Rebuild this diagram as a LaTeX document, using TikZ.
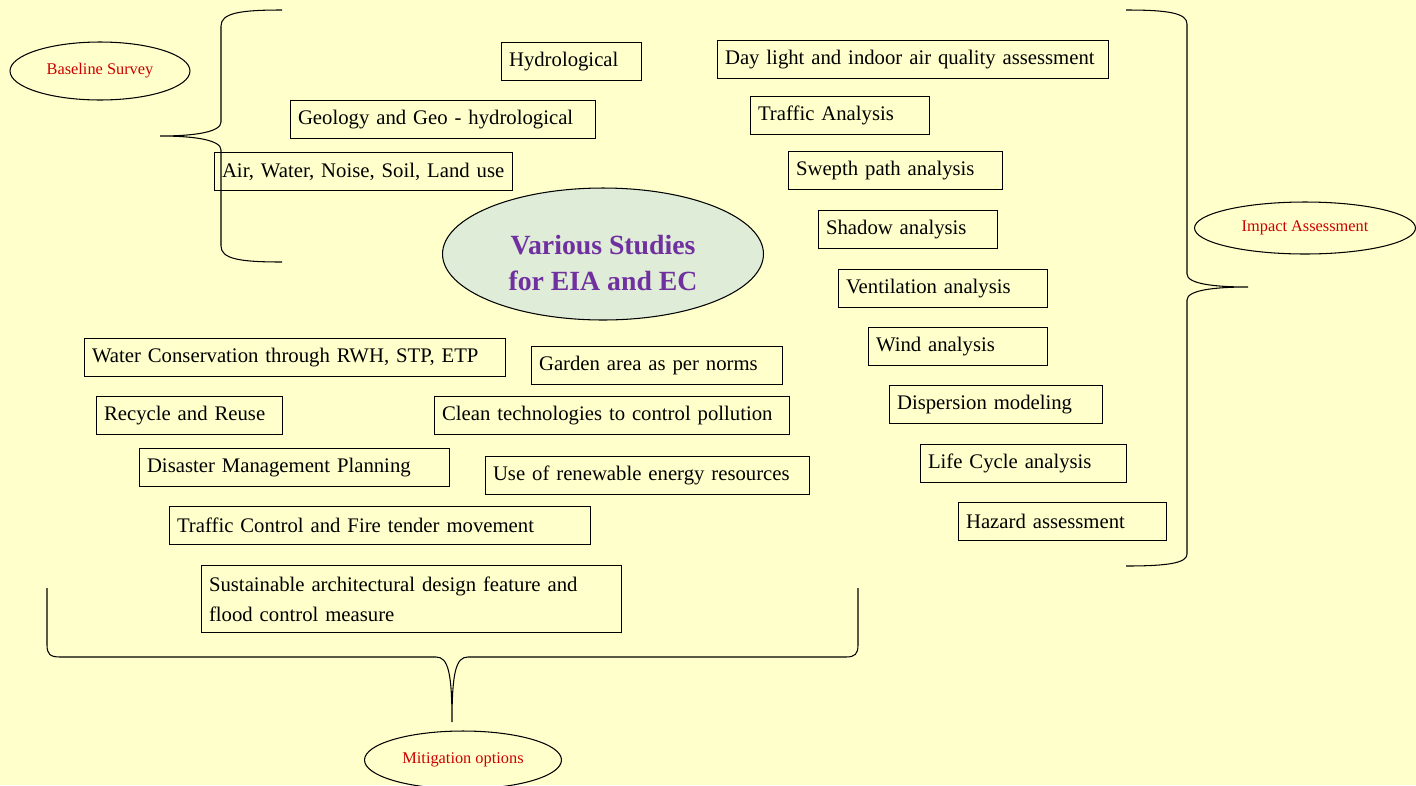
\documentclass[tikz,border=0pt]{standalone}
\usepackage{fontspec}
\setmainfont{Liberation Serif}
\usetikzlibrary{shapes.geometric}
\definecolor{paper}{RGB}{255,255,204}
\definecolor{labelred}{RGB}{204,0,0}
\definecolor{studypurple}{RGB}{112,48,160}
\definecolor{studyfill}{RGB}{222,236,216}

\begin{document}
\begin{tikzpicture}[x=0.02cm, y=-0.02cm, line width=0.6pt,
  box/.style={draw, anchor=north west, inner xsep=0.15cm, inner ysep=0pt,
    minimum height=0.76cm, align=left, font=\fontsize{11.8}{17}\selectfont},
  tag/.style={draw, ellipse, inner sep=0pt, text=labelred, font=\fontsize{9.3}{11}\selectfont}]
  % Page
  \fill[paper] (0,0) rectangle (1416,785);
  \useasboundingbox (0,0) rectangle (1416,785);

  % Centre
  \node[draw, ellipse, fill=studyfill, minimum width=6.42cm, minimum height=2.64cm] (studies) at (603,254) {};
  \node[text=studypurple, align=center, font=\fontsize{15.8}{20.4}\selectfont\bfseries]
    (studiestext) at (603,263) {Various Studies\\for EIA and EC};

  % Baseline survey
  \node[tag, minimum width=3.6cm, minimum height=1.16cm] (baseline) at (100,71) {Baseline Survey};
  \node[box, text width=2.5cm] (hydro) at (501,42) {Hydrological};
  \node[box, text width=5.8cm] (geology) at (290,100) {Geology and Geo - hydrological};
  \node[box, text width=5.66cm] (air) at (214,152) {Air, Water, Noise, Soil, Land use};
  \draw (282,10) .. controls (240,10) and (221,13) .. (221,26) -- (221,122)
    .. controls (221,132) and (195,136) .. (160,136)
    .. controls (195,136) and (221,140) .. (221,150) -- (221,246)
    .. controls (221,259) and (240,262) .. (282,262);

  % Impact assessment
  \node[tag, minimum width=4.42cm, minimum height=1.04cm] (impact) at (1305,228) {Impact Assessment};
  \node[box, text width=7.52cm] (daylight) at (717,40) {Day light and indoor air quality assessment};
  \node[box, text width=3.28cm] (traffic) at (750,96) {Traffic Analysis};
  \node[box, text width=3.98cm] (swepth) at (788,151) {Swepth path analysis};
  \node[box, text width=3.28cm] (shadow) at (818,210) {Shadow analysis};
  \node[box, text width=3.88cm] (vent) at (838,269) {Ventilation analysis};
  \node[box, text width=3.28cm] (wind) at (868,327) {Wind analysis};
  \node[box, text width=3.96cm] (disp) at (889,385) {Dispersion modeling};
  \node[box, text width=3.82cm] (lca) at (920,444) {Life Cycle analysis};
  \node[box, text width=3.86cm] (hazard) at (958,502) {Hazard assessment};
  \draw (1126,10) .. controls (1168,10) and (1187,13) .. (1187,24) -- (1187,274)
    .. controls (1187,284) and (1215,287) .. (1248,287)
    .. controls (1215,287) and (1187,290) .. (1187,300) -- (1187,554)
    .. controls (1187,563) and (1168,566) .. (1126,566);

  % Mitigation options
  \node[tag, minimum width=3.94cm, minimum height=1.16cm] (mitigation) at (463,760) {Mitigation options};
  \node[box, text width=8.12cm] (water) at (84,338) {Water Conservation through RWH, STP, ETP};
  \node[box, text width=4.72cm] (garden) at (531,346) {Garden area as per norms};
  \node[box, text width=3.42cm] (recycle) at (96,396) {Recycle and Reuse};
  \node[box, text width=6.8cm] (clean) at (434,396) {Clean technologies to control pollution};
  \node[box, text width=5.9cm] (disaster) at (139,448) {Disaster Management Planning};
  \node[box, text width=6.18cm] (renew) at (485,456) {Use of renewable energy resources};
  \node[box, text width=8.12cm] (firetender) at (169,506) {Traffic Control and Fire tender movement};
  \node[box, text width=8.1cm, minimum height=1.34cm] (sustain) at (201,565)
    {Sustainable architectural design feature and\\flood control measure};
  \draw (47,588) -- (47,645) .. controls (47,654) and (50,657) .. (60,657) -- (436,657)
    .. controls (448,657) and (452,672) .. (452,722)
    .. controls (452,672) and (456,657) .. (468,657) -- (846,657)
    .. controls (855,657) and (858,654) .. (858,645) -- (858,588);
\end{tikzpicture}
\end{document}
